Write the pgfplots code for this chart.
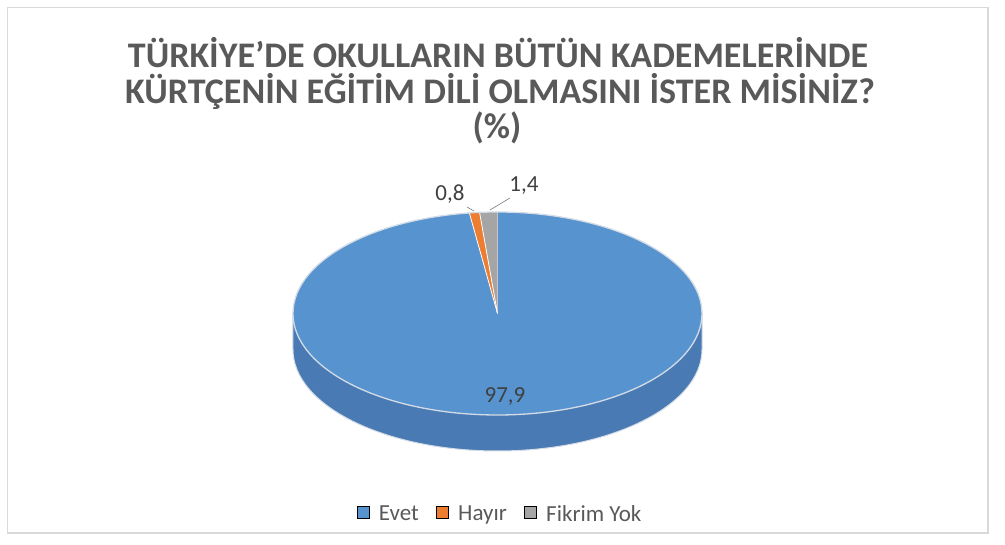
\documentclass[border=0pt]{standalone}
\usepackage{fontspec}
\setmainfont{Carlito}
\usepackage{pgfplots}
\usepackage{pgfplotstable}
\pgfplotsset{compat=1.18}

\definecolor{cEvet}{HTML}{5793CE}
\definecolor{cHayir}{HTML}{ED7D31}
\definecolor{cYok}{HTML}{A5A5A5}
\definecolor{sideDark}{HTML}{4A7AB3}
\definecolor{sideMid}{HTML}{5089C5}
\definecolor{rimline}{HTML}{D3DCE6}
\definecolor{titlegray}{HTML}{595959}
\definecolor{labelgray}{HTML}{404040}
\definecolor{framegray}{HTML}{D9D9D9}

% answer shares (%)
\pgfplotstableread{
id value
0 97.9
1 0.8
2 1.4
}\pietable

\pgfplotstablegetelem{0}{value}\of\pietable \let\vEvet\pgfplotsretval
\pgfplotstablegetelem{1}{value}\of\pietable \let\vHayir\pgfplotsretval
\pgfplotstablegetelem{2}{value}\of\pietable \let\vYok\pgfplotsretval

\pgfmathsetmacro\total{\vEvet+\vHayir+\vYok}
% slices run clockwise from 12 o'clock
\pgfmathsetmacro\aEvet{90-\vEvet/\total*360}
\pgfmathsetmacro\aHayir{\aEvet-\vHayir/\total*360}

\def\rx{204.5bp}
\def\ry{101.5bp}
\def\dep{36bp}

\newcommand\slice[3]{%
  \fill[#3] (0bp,0bp) -- ({\rx*cos(#1)},{\ry*sin(#1)})
    arc[start angle=#1, end angle=#2, x radius=\rx, y radius=\ry] -- cycle;
  \draw[white, line width=0.8bp] (0bp,0bp) -- ({\rx*cos(#1)},{\ry*sin(#1)});
}

\newcommand\lbl[1]{\pgfmathprintnumber[fixed, fixed zerofill, precision=1, use comma, assume math mode=true]{#1}}

\begin{document}
\begin{tikzpicture}
\useasboundingbox (0,0) rectangle (1005bp,545bp);
\begin{axis}[
    scale only axis,
    width=1005bp, height=545bp,
    xmin=0, xmax=1005, ymin=0, ymax=545,
    hide axis, clip=false,
    at={(0,0)}, anchor=south west,
    legend columns=3,
    legend style={
        at={(axis description cs:0.4965,0.0569)}, anchor=center,
        draw=none, fill=none,
        nodes={inner sep=0bp},
        font=\fontsize{23bp}{28bp}\selectfont, text=titlegray,
        /tikz/every even column/.append style={column sep=17bp},
        /tikz/every odd column/.append style={column sep=10bp},
    },
    legend image code/.code={\fill[#1] (0bp,-4bp) rectangle (12bp,8bp);},
]

% chart frame
\draw[framegray, line width=1.5bp] (axis cs:7.5,537.5) rectangle (axis cs:988,12);

% title
\node[font=\fontsize{36bp}{36bp}\selectfont\bfseries, text=titlegray, anchor=base]
    at (axis cs:498,477) {TÜRKİYE’DE OKULLARIN BÜTÜN KADEMELERİNDE};
\node[font=\fontsize{36bp}{36bp}\selectfont\bfseries, text=titlegray, anchor=base]
    at (axis cs:500,441) {KÜRTÇENİN EĞİTİM DİLİ OLMASINI İSTER MİSİNİZ?};
\node[font=\fontsize{36bp}{36bp}\selectfont\bfseries, text=titlegray, anchor=base]
    at (axis cs:497,406) {(\%)};

% pie
\begin{scope}[shift={(axis cs:497.5,231.5)}]
  \shade[left color=sideDark, middle color=sideMid, right color=sideDark]
    (-\rx,0bp) -- (-\rx,-\dep)
    arc[start angle=180, end angle=360, x radius=\rx, y radius=\ry]
    -- (\rx,0bp)
    arc[start angle=0, end angle=-180, x radius=\rx, y radius=\ry] -- cycle;
  \draw[rimline, line width=1bp]
    (-\rx,0bp) -- (-\rx,-\dep)
    arc[start angle=180, end angle=360, x radius=\rx, y radius=\ry]
    -- (\rx,0bp);
  \slice{90}{\aEvet}{cEvet}
  \slice{\aEvet}{\aHayir}{cHayir}
  \slice{\aHayir}{-270}{cYok}
  \draw[rimline, line width=1.3bp] (0bp,0bp) ellipse[x radius=\rx, y radius=\ry];
\end{scope}

% data labels
\draw[labelgray!70, line width=0.6bp] (axis cs:467,338) -- (axis cs:474,334);
\draw[labelgray!70, line width=0.6bp] (axis cs:510,347) -- (axis cs:490,335);
\node[font=\fontsize{23bp}{28bp}\selectfont, text=labelgray, anchor=base]
    at (axis cs:450,344) {\lbl{\vHayir}};
\node[font=\fontsize{23bp}{28bp}\selectfont, text=labelgray, anchor=base]
    at (axis cs:524,353) {\lbl{\vYok}};
\node[font=\fontsize{23bp}{28bp}\selectfont, text=labelgray, anchor=base]
    at (axis cs:505,142) {\lbl{\vEvet}};

\addlegendimage{fill=cEvet}
\addlegendentry{Evet}
\addlegendimage{fill=cHayir}
\addlegendentry{Hayır}
\addlegendimage{fill=cYok}
\addlegendentry{Fikrim Yok}
\end{axis}
\end{tikzpicture}
\end{document}
